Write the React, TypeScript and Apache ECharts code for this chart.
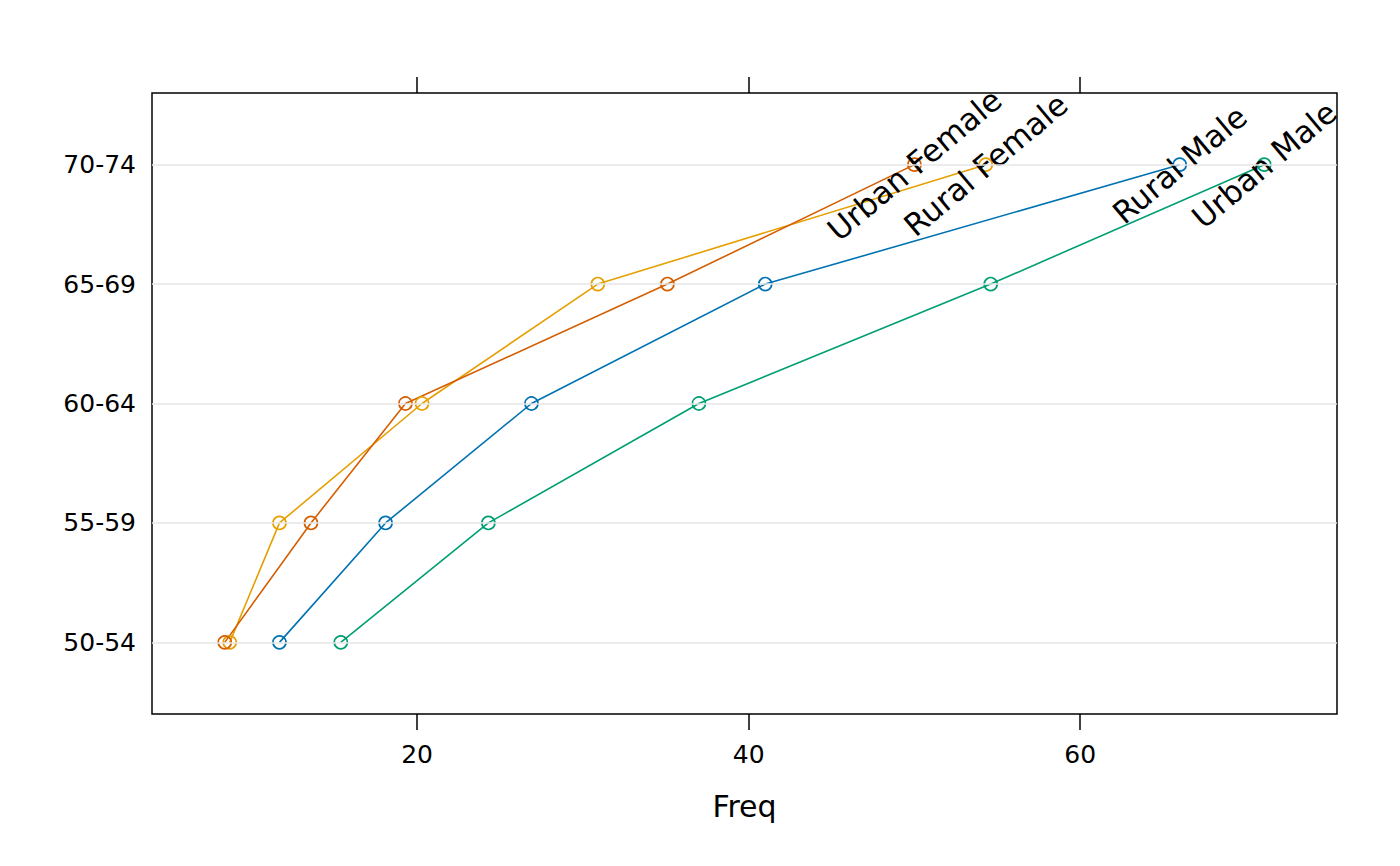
import React, { useEffect, useRef } from "react";
import * as echarts from "echarts";

const ageGroups = ["50-54", "55-59", "60-64", "65-69", "70-74"];
const seriesNames = ["Rural Male", "Rural Female", "Urban Male", "Urban Female"];
const ruralMale = [11.7, 18.1, 26.9, 41.0, 66.0];
const ruralFemale = [8.7, 11.7, 20.3, 30.9, 54.3];
const urbanMale = [15.4, 24.3, 37.0, 54.6, 71.1];
const urbanFemale = [8.4, 13.6, 19.3, 35.1, 50.0];
const xTicks = [20, 40, 60];
const colors = ["#0072B2", "#E69F00", "#009E73", "#D55E00"];

const FONT = "DejaVu Sans";

export default function App() {
  const ref = useRef<HTMLDivElement>(null);
  useEffect(() => {
    document.body.style.margin = "0";
    if (!ref.current) return;
    const chart = echarts.init(ref.current, null, { renderer: "svg" });
    const all = [ruralMale, ruralFemale, urbanMale, urbanFemale];
    const yIdx = ageGroups.map((_, i) => i + 1);
    const series: any[] = all.map((vals, si) => ({
      name: seriesNames[si],
      type: "line",
      xAxisIndex: 0,
      yAxisIndex: 0,
      color: colors[si],
      symbol: "circle",
      symbolSize: 13,
      itemStyle: { color: "rgba(0,0,0,0)", borderColor: colors[si], borderWidth: 1.7 },
      lineStyle: { color: colors[si], width: 1.6 },
      emphasis: { disabled: true },
      z: 3,
      data: vals.map((v, i) => {
        const item: any = { value: [v, yIdx[i]] };
        if (i === vals.length - 1) {
          item.label = {
            show: true,
            formatter: seriesNames[si],
            position: "inside",
            align: "center",
            verticalAlign: "middle",
            rotate: 40,
            fontSize: 31,
            fontFamily: FONT,
            color: "#000",
          };
        }
        return item;
      }),
    }));
    series.push({
      type: "line",
      data: [],
      silent: true,
      z: 1,
      markLine: {
        silent: true,
        symbol: "none",
        label: { show: false },
        lineStyle: { color: "#e6e6e6", width: 1.5, type: "solid" },
        data: yIdx.map((y) => ({ yAxis: y })),
      },
    });
    chart.setOption({
      animation: false,
      backgroundColor: "#fff",
      grid: {
        left: 152,
        right: 63,
        top: 93,
        bottom: 152,
        show: true,
        borderColor: "#000",
        borderWidth: 1.5,
        backgroundColor: "transparent",
      },
      xAxis: [
        {
          type: "value",
          position: "bottom",
          min: 4.011,
          max: 75.489,
          name: "Freq",
          nameLocation: "middle",
          nameGap: 77,
          nameTextStyle: { fontSize: 30, fontFamily: FONT, color: "#000" },
          axisLine: { show: false },
          axisTick: { show: true, customValues: xTicks, length: 16, inside: false, lineStyle: { color: "#000", width: 1.5 } },
          axisLabel: { customValues: xTicks, margin: 28, fontSize: 25, fontFamily: FONT, color: "#000" },
          splitLine: { show: false },
        },
        {
          type: "value",
          position: "top",
          min: 4.011,
          max: 75.489,
          axisLine: { show: false },
          axisTick: { show: true, customValues: xTicks, length: 16, inside: false, lineStyle: { color: "#000", width: 1.5 } },
          axisLabel: { show: false },
          splitLine: { show: false },
        },
      ],
      yAxis: {
        type: "value",
        min: 0.4,
        max: 5.6,
        axisLine: { show: false },
        axisTick: { show: false },
        axisLabel: {
          customValues: yIdx,
          margin: 16,
          fontSize: 25,
          fontFamily: FONT,
          color: "#000",
          formatter: (v: number) => ageGroups[Math.round(v) - 1] ?? "",
        },
        splitLine: { show: false },
      },
      series,
    });
    return () => chart.dispose();
  }, []);
  return <div ref={ref} style={{ width: 1400, height: 866 }} />;
}
